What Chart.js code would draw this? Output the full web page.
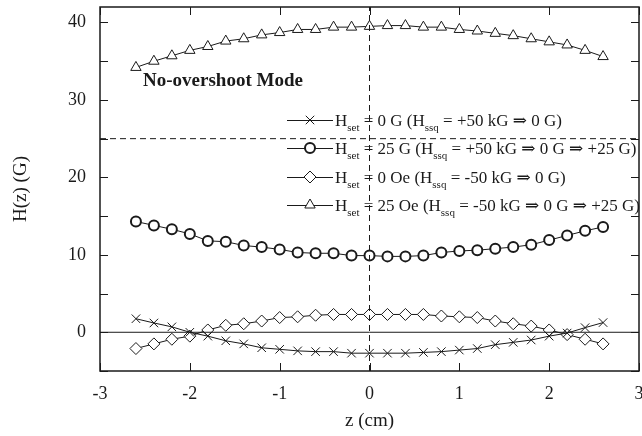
<!DOCTYPE html>
<html>
<head>
<meta charset="utf-8">
<script src="https://cdn.jsdelivr.net/npm/chart.js"></script>
<style>
  html, body { margin: 0; padding: 0; background: #fff; }
  #wrap { width: 642px; height: 436px; }
</style>
</head>
<body>
<div id="wrap"><canvas id="chart" width="642" height="436"></canvas></div>
<script>
// 위치 z (cm)
var zValues = [-2.6, -2.4, -2.2, -2.0, -1.8, -1.6, -1.4, -1.2, -1.0, -0.8, -0.6, -0.4, -0.2, 0.0,
  0.2, 0.4, 0.6, 0.8, 1.0, 1.2, 1.4, 1.6, 1.8, 2.0, 2.2, 2.4, 2.6];

// H(z) (G) 측정값 - 네 가지 조건
var hSet0G = [1.75, 1.2, 0.7, 0.0, -0.5, -1.1, -1.5, -2.0, -2.2, -2.4, -2.5, -2.5, -2.7, -2.7,
  -2.7, -2.7, -2.6, -2.5, -2.3, -2.1, -1.6, -1.3, -1.0, -0.5, -0.1, 0.6, 1.25];
var hSet25G = [14.3, 13.8, 13.3, 12.7, 11.8, 11.7, 11.2, 11.0, 10.7, 10.3, 10.2, 10.2, 9.9, 9.9,
  9.8, 9.8, 9.9, 10.3, 10.5, 10.6, 10.8, 11.0, 11.3, 11.9, 12.5, 13.1, 13.6];
var hSet0Oe = [-2.1, -1.5, -0.9, -0.5, 0.3, 0.9, 1.1, 1.45, 1.9, 2.0, 2.2, 2.3, 2.3, 2.3,
  2.3, 2.3, 2.3, 2.1, 2.0, 1.9, 1.45, 1.1, 0.8, 0.3, -0.3, -0.9, -1.5];
var hSet25Oe = [34.2, 35.0, 35.7, 36.4, 36.9, 37.6, 37.9, 38.4, 38.7, 39.1, 39.1, 39.4, 39.4, 39.5,
  39.6, 39.6, 39.4, 39.4, 39.1, 38.9, 38.6, 38.3, 37.9, 37.5, 37.1, 36.4, 35.6];

// 축 눈금
var xTicks = [-3, -2, -1, 0, 1, 2, 3];
var yTicks = [-5, 0, 5, 10, 15, 20, 25, 30, 35, 40];
var yLabelTicks = [0, 10, 20, 30, 40];

// 범례 문구 (H_set, H_ssq 아래첨자)
var legendValues = [' = 0 G (H', ' = 25 G (H', ' = 0 Oe (H', ' = 25 Oe (H'];
var legendRests = [' = +50 kG \u21D2 0 G)', ' = +50 kG \u21D2 0 G \u21D2 +25 G)',
  ' = -50 kG \u21D2 0 G)', ' = -50 kG \u21D2 0 G \u21D2 +25 G)'];

var INK = '#1a1a1a';
var SERIF = '"Liberation Serif", "DejaVu Serif", serif';

function pts(ys) {
  return zValues.map(function(z, i){ return {x: z, y: ys[i]}; });
}

var seriesDefs = [
  {data: hSet0G, style: 'crossRot', radius: 6, width: 1},
  {data: hSet25G, style: 'circle', radius: 5, width: 2},
  {data: hSet0Oe, style: 'rectRot', radius: 6, width: 1},
  {data: hSet25Oe, style: 'triangle', radius: 6, width: 1}
];

var datasets = seriesDefs.map(function(s){
  return {
    data: pts(s.data),
    borderColor: INK,
    borderWidth: 1,
    pointStyle: s.style,
    pointRadius: s.radius,
    pointBorderWidth: s.width,
    pointBorderColor: INK,
    pointBackgroundColor: '#fff',
    tension: 0
  };
});

// 기준선: y=0 실선, y=25 점선, z=0 점선
datasets.unshift(
  {data: [{x:-3, y:0}, {x:3, y:0}], borderColor: INK, borderWidth: 1, pointRadius: 0},
  {data: [{x:-3, y:25}, {x:3, y:25}], borderColor: INK, borderWidth: 1, borderDash: [6, 4], pointRadius: 0},
  {data: [{x:0, y:-5}, {x:0, y:42}], borderColor: INK, borderWidth: 1, borderDash: [6, 4], pointRadius: 0}
);

// 프레임 + 안쪽 눈금
var framePlugin = {
  id: 'frame',
  afterDatasetsDraw: function(chart){
    var ctx = chart.ctx, a = chart.chartArea;
    var xs = chart.scales.x, ys = chart.scales.y;
    ctx.save();
    ctx.strokeStyle = INK;
    ctx.lineWidth = 1.5;
    ctx.strokeRect(a.left, a.top, a.right - a.left, a.bottom - a.top);
    ctx.lineWidth = 1;
    ctx.beginPath();
    xTicks.forEach(function(v){
      var px = Math.round(xs.getPixelForValue(v)) + 0.5;
      ctx.moveTo(px, a.bottom); ctx.lineTo(px, a.bottom - 8);
      ctx.moveTo(px, a.top); ctx.lineTo(px, a.top + 8);
    });
    yTicks.forEach(function(v){
      var py = Math.round(ys.getPixelForValue(v)) + 0.5;
      ctx.moveTo(a.left, py); ctx.lineTo(a.left + 8, py);
      ctx.moveTo(a.right, py); ctx.lineTo(a.right - 8, py);
    });
    ctx.stroke();
    ctx.restore();
  }
};

// 범례 + 주석 문구
var legendPlugin = {
  id: 'customLegend',
  afterDraw: function(chart){
    var ctx = chart.ctx;
    ctx.save();
    ctx.fillStyle = INK;
    ctx.textBaseline = 'alphabetic';

    ctx.font = 'bold 19px ' + SERIF;
    ctx.fillText('No-overshoot Mode', 143, 86);

    var rowY = [120, 148, 177, 205];
    seriesDefs.forEach(function(s, i){
      var y = rowY[i];
      ctx.strokeStyle = INK;
      ctx.lineWidth = 1;
      ctx.beginPath();
      ctx.moveTo(287, y + 0.5); ctx.lineTo(333, y + 0.5);
      ctx.stroke();
      ctx.fillStyle = '#fff';
      ctx.strokeStyle = INK;
      ctx.lineWidth = s.width;
      Chart.helpers.drawPoint(ctx, {
        pointStyle: s.style, radius: s.radius, borderWidth: s.width, rotation: 0
      }, 310, y);
      ctx.fillStyle = INK;

      var base = y + 6;
      var x = 335;
      ctx.font = '17px ' + SERIF;
      ctx.fillText('H', x, base); x += ctx.measureText('H').width;
      ctx.font = '11px ' + SERIF;
      ctx.fillText('set', x, base + 5); x += ctx.measureText('set').width;
      ctx.font = '17px ' + SERIF;
      ctx.fillText(legendValues[i], x, base); x += ctx.measureText(legendValues[i]).width;
      ctx.font = '11px ' + SERIF;
      ctx.fillText('ssq', x, base + 5); x += ctx.measureText('ssq').width;
      ctx.font = '17px ' + SERIF;
      ctx.fillText(legendRests[i], x, base);
    });
    ctx.restore();
  }
};

function noPad(scale){
  scale.paddingLeft = 0; scale.paddingRight = 0;
  scale.paddingTop = 0; scale.paddingBottom = 0;
}

new Chart(document.getElementById('chart').getContext('2d'), {
  type: 'line',
  data: {datasets: datasets},
  options: {
    responsive: false,
    animation: false,
    layout: {autoPadding: false, padding: {top: 7, right: 3, left: 0, bottom: 0}},
    plugins: {legend: {display: false}, tooltip: {enabled: false}},
    scales: {
      x: {
        type: 'linear',
        min: -3, max: 3,
        afterBuildTicks: function(scale){ scale.ticks = xTicks.map(function(v){ return {value: v}; }); },
        afterFit: function(scale){ scale.height = 65; noPad(scale); },
        grid: {display: false, drawTicks: false},
        border: {display: false},
        ticks: {color: INK, padding: 12, maxRotation: 0, font: {family: SERIF, size: 18}},
        title: {display: true, text: 'z (cm)', color: INK, font: {family: SERIF, size: 19}, padding: {top: 0, bottom: 4}}
      },
      y: {
        type: 'linear',
        min: -5, max: 42,
        afterBuildTicks: function(scale){ scale.ticks = yLabelTicks.map(function(v){ return {value: v}; }); },
        afterFit: function(scale){ scale.width = 100; noPad(scale); },
        grid: {display: false, drawTicks: false},
        border: {display: false},
        ticks: {color: INK, padding: 14, font: {family: SERIF, size: 18}},
        title: {display: true, text: 'H(z) (G)', color: INK, font: {family: SERIF, size: 19}, padding: {top: 10, bottom: 0}}
      }
    }
  },
  plugins: [framePlugin, legendPlugin]
});
</script>
</body>
</html>
